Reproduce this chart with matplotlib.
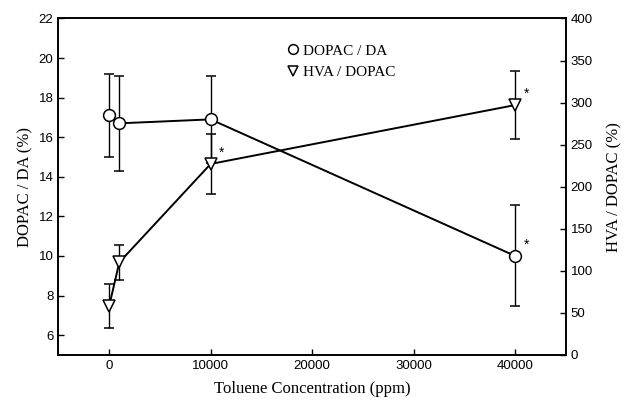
import numpy as np
import matplotlib
matplotlib.use("Agg")
import matplotlib.pyplot as plt
from matplotlib.lines import Line2D

# Data
conc = np.array([0, 1000, 10000, 40000])
dopac_da = np.array([17.1, 16.7, 16.9, 10.0])
dopac_da_err = np.array([2.1, 2.4, 2.2, 2.55])
hva_dopac = np.array([58, 110, 227, 297])
hva_dopac_err = np.array([26, 21, 36, 40])

# significance marks (x, value)
star_dopac = [(40000, 10.0)]
star_hva = [(10000, 227), (40000, 297)]

fig = plt.figure(figsize=(6.28, 4.01), dpi=100)
ax = fig.add_axes([0.093, 0.115, 0.808, 0.839])
ax2 = ax.twinx()

serif = "Liberation Serif"
sans = "Liberation Sans"

ax.errorbar(conc, dopac_da, yerr=dopac_da_err, color="black", lw=1.4,
            marker="o", ms=8.5, mfc="white", mec="black", mew=1.1,
            capsize=3.5, elinewidth=1.0, capthick=1.0, zorder=3)
ax2.errorbar(conc, hva_dopac, yerr=hva_dopac_err, color="black", lw=1.4,
             marker="v", ms=8.5, mfc="white", mec="black", mew=1.1,
             capsize=3.5, elinewidth=1.0, capthick=1.0, zorder=3)

for x, y in star_dopac:
    ax.annotate("*", (x, y), xytext=(6, 5), textcoords="offset points",
                fontsize=10, fontfamily=sans)
for x, y in star_hva:
    ax2.annotate("*", (x, y), xytext=(6, 5), textcoords="offset points",
                 fontsize=10, fontfamily=sans)

ax.set_xlim(-5000, 45000)
ax.set_ylim(5, 22)
ax2.set_ylim(0, 400)
ax.set_xticks([0, 10000, 20000, 30000, 40000])
ax.set_yticks(np.arange(6, 23, 2))
ax2.set_yticks(np.arange(0, 401, 50))

for a in (ax, ax2):
    a.tick_params(direction="in", length=4, width=1, labelsize=9.5)
    for lab in a.get_xticklabels() + a.get_yticklabels():
        lab.set_fontfamily(sans)
    for s in a.spines.values():
        s.set_linewidth(1.2)

ax.set_xlabel("Toluene Concentration (ppm)", fontsize=12, fontfamily=serif,
              labelpad=7)
ax.set_ylabel("DOPAC / DA (%)", fontsize=12, fontfamily=serif)
ax2.set_ylabel("HVA / DOPAC (%)", fontsize=12, fontfamily=serif, labelpad=10)

handles = [
    Line2D([], [], ls="none", marker="o", ms=7, mfc="white", mec="black", mew=1.1),
    Line2D([], [], ls="none", marker="v", ms=7, mfc="white", mec="black", mew=1.1),
]
ax.legend(handles, ["DOPAC / DA", "HVA / DOPAC"], loc="upper left",
          bbox_to_anchor=(0.425, 0.965), frameon=False, handlelength=0.7,
          handletextpad=0.3, labelspacing=0.5,
          prop={"family": serif, "size": 11})

fig.savefig("out.png", dpi=100)
